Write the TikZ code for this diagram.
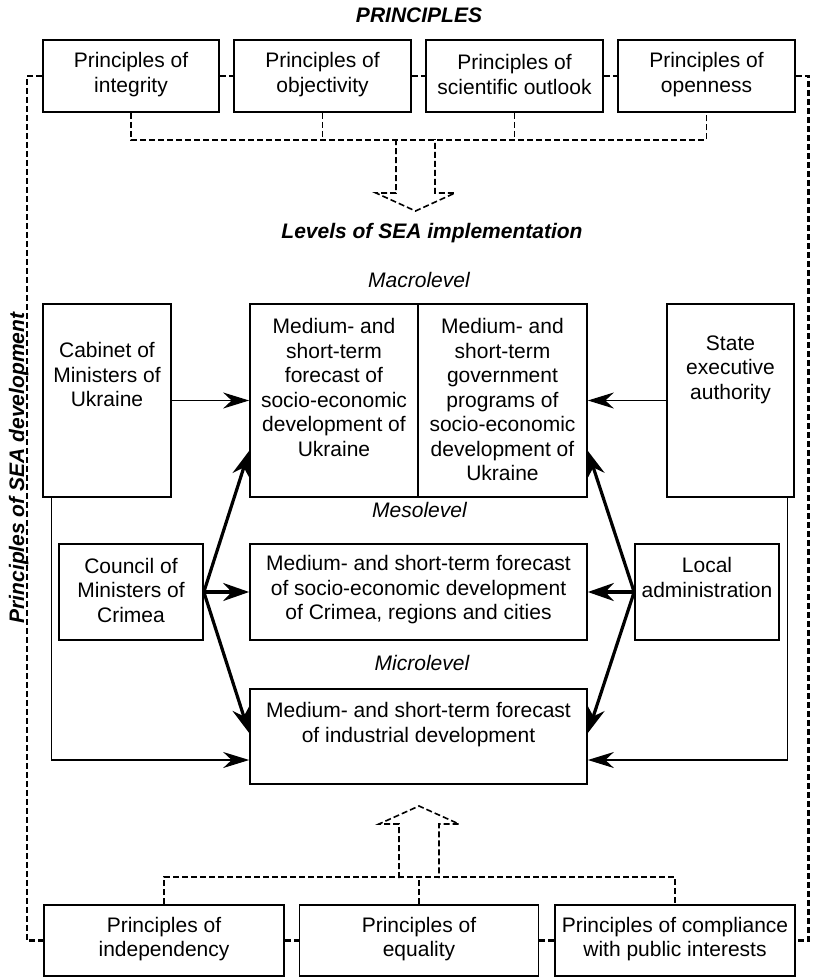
\documentclass[tikz,border=0pt]{standalone}
\usepackage{fontspec}
\setmainfont{Liberation Sans}
\usetikzlibrary{arrows.meta}
\newcommand\myfs{\fontsize{21}{24.5}\selectfont}
\newcommand\mybox[5]{\node[box, minimum width={(#4-#2)*1pt}, minimum height={(#5-#3)*1pt}] (#1) at ({(#2+#4)/2},{(#3+#5)/2}) {};}
\tikzset{
  box/.style={draw, line width=1.7pt, inner sep=0pt, rectangle},
  txt/.style={align=center, inner sep=0pt, font=\myfs},
  lbl/.style={inner sep=0pt, font=\myfs\itshape},
  blbl/.style={inner sep=0pt, font=\myfs\bfseries\itshape},
  dsh/.style={line width=1.6pt, dash pattern=on 6pt off 3pt},
  odsh/.style={line width=2.2pt, dash pattern=on 6pt off 3pt},
  thinarrow/.style={line width=1.2pt, -{Stealth[length=26pt,width=16pt,inset=8.5pt]}},
  thickarrow/.style={line width=3.2pt, -{Stealth[length=26pt,width=18pt,inset=8.5pt]}},
}
\begin{document}
\begin{tikzpicture}[x=1pt,y=-1pt]
\fill[white] (0,0) rectangle (812,977);
\useasboundingbox (0,0) rectangle (812,977);

% titles
\node[blbl] (title) at (419,15) {PRINCIPLES};
\node[blbl] (levels) at (432,233) {Levels of SEA implementation};
\node[lbl] (macrol) at (419,280) {Macrolevel};
\node[lbl] (mesol) at (419.5,510) {Mesolevel};
\node[lbl] (microl) at (422,663) {Microlevel};
\node[blbl, rotate=90, anchor=base] (side) at (24,468) {Principles of SEA development};

% top principle boxes
\mybox{p1}{43}{40}{219}{112}
\mybox{p2}{234}{40}{411}{112}
\mybox{p3}{426}{40}{603}{112}
\mybox{p4}{618}{40}{795}{112}
\node[txt] (p1t) at (131,74.5) {Principles of\\integrity};
\node[txt] (p2t) at (322.5,74.5) {Principles of\\objectivity};
\node[txt] (p3t) at (514.5,74.5) {Principles of\\scientific outlook};
\node[txt] (p4t) at (706.5,74.5) {Principles of\\openness};

% macro level
\mybox{cab}{43}{304}{171}{497}
\mybox{macL}{250}{304}{418}{497}
\mybox{macR}{418}{304}{587}{497}
\mybox{state}{667}{304}{794}{497}
\node[txt, anchor=north] (cabt) at (107,342.3) {Cabinet of\\Ministers of\\Ukraine};
\node[txt, anchor=north] (macLt) at (334,318.3) {Medium- and\\short-term\\forecast of\\socio-economic\\development of\\Ukraine};
\node[txt, anchor=north] (macRt) at (502.5,318.3) {Medium- and\\short-term\\government\\programs of\\socio-economic\\development of\\Ukraine};
\node[txt, anchor=north] (statet) at (730.5,335.3) {State\\executive\\authority};

% meso level
\mybox{crim}{59}{544}{203}{640}
\mybox{meso}{250}{544}{587}{640}
\mybox{local}{635}{544}{779}{640}
\node[txt] (crimt) at (131,590) {Council of\\Ministers of\\Crimea};
\node[txt] (mesot) at (418.5,590) {Medium- and short-term forecast\\of socio-economic development\\of Crimea, regions and cities};
\node[txt, anchor=north] (localt) at (707,557.3) {Local\\administration};

% micro level
\mybox{micro}{250}{689}{587}{784}
\node[txt, anchor=north] (microt) at (418.5,702.3) {Medium- and short-term forecast\\of industrial development};

% bottom principle boxes
\mybox{b1}{44}{905}{284}{976}
\mybox{b2}{299.5}{905}{538.5}{976}
\mybox{b3}{555}{905}{795}{976}
\node[txt] (b1t) at (164,939) {Principles of\\independency};
\node[txt] (b2t) at (419,939) {Principles of\\equality};
\node[txt] (b3t) at (675,939) {Principles of compliance\\with public interests};

% outer dashed chain
\coordinate (oTL) at (27,76);
\coordinate (oBL) at (27,940.5);
\coordinate (oTR) at (808.5,76);
\coordinate (oBR) at (808.5,940.5);
\draw[odsh] (p1.west) -- (oTL) -- (oBL) -- (b1.west);
\draw[odsh] (p4.east) -- (oTR) -- (oBR) -- (b3.east);
\draw[odsh] (p1.east) -- (p2.west);
\draw[odsh] (p2.east) -- (p3.west);
\draw[odsh] (p3.east) -- (p4.west);
\draw[odsh] (b1.east) -- (b2.west);
\draw[odsh] (b2.east) -- (b3.west);

% top collector and hollow arrow
\coordinate (tbar) at (415,139);
\draw[dsh] (p1.south) -- ++(0,27) -| (p4.south);
\draw[dsh] (p2.south) -- (p2.south |- tbar);
\draw[dsh] (p3.south) -- (p3.south |- tbar);
\draw[dsh] ([xshift=-19pt]tbar) -- ++(0,54) -- ++(-20,0) -- ++(39.5,18) -- ++(39.5,-18) -- ++(-20,0) -- ++(0,-54);

% bottom collector and hollow arrow
\coordinate (bbar) at (419,878);
\draw[dsh] (b1.north) -- ++(0,-27) -| (b3.north);
\draw[dsh] (b2.north) -- (b2.north |- bbar);
\draw[dsh] ([xshift=-20pt]bbar) -- ++(0,-54) -- ++(-20,0) -- ++(40,-18) -- ++(40,18) -- ++(-20,0) -- ++(0,54);

% thin arrows
\draw[thinarrow] (cab.east) -- (macL.west);
\draw[thinarrow] (state.west) -- (macR.east);
\draw[thinarrow] ([xshift=9pt]cab.south west) |- ([yshift=-23.5pt]micro.west);
\draw[thinarrow] ([xshift=-7pt]state.south east) |- ([yshift=-23.5pt]micro.east);

% thick arrows
\draw[thickarrow] (crim.east) -- (meso.west);
\draw[thickarrow] (crim.east) -- ([yshift=47pt]macL.south west);
\draw[thickarrow] (crim.east) -- ([yshift=3.5pt]micro.west);
\draw[thickarrow] (local.west) -- (meso.east);
\draw[thickarrow] (local.west) -- ([yshift=47pt]macR.south east);
\draw[thickarrow] (local.west) -- ([yshift=3.5pt]micro.east);
\end{tikzpicture}
\end{document}
